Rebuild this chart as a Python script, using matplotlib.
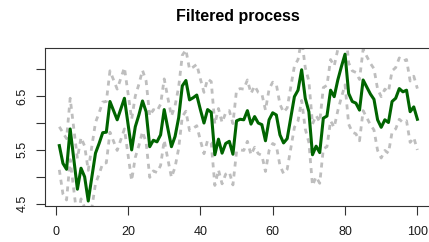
import matplotlib
matplotlib.use("Agg")
import matplotlib.pyplot as plt

plt.rcParams['font.family'] = ['Liberation Sans', 'DejaVu Sans']

title = "Filtered process"
time = list(range(1, 101))

filtered = [
    5.58, 5.25, 5.14, 5.89, 5.33, 4.77, 5.16, 5.00, 4.55, 5.00,
    5.44, 5.62, 5.82, 5.83, 6.40, 6.23, 6.06, 6.26, 6.46, 5.98,
    5.50, 5.93, 6.15, 6.41, 6.21, 5.56, 5.68, 5.65, 5.78, 6.25,
    5.90, 5.56, 5.75, 6.10, 6.69, 6.79, 6.43, 6.47, 6.52, 6.25,
    6.00, 6.25, 6.20, 5.41, 5.70, 5.44, 5.62, 5.66, 5.42, 6.04,
    6.07, 6.06, 6.23, 5.98, 6.12, 6.00, 5.97, 5.67, 6.06, 6.19,
    6.15, 5.78, 5.63, 5.71, 6.10, 6.49, 6.61, 6.99, 6.46, 6.21,
    5.41, 5.57, 5.45, 6.09, 6.13, 6.61, 6.49, 6.80, 7.05, 7.28,
    6.55, 6.40, 6.37, 6.24, 6.80, 6.67, 6.54, 6.44, 6.06, 5.92,
    6.06, 6.01, 6.40, 6.46, 6.64, 6.58, 6.61, 6.21, 6.30, 6.07,
]

upper = [
    5.93, 5.82, 5.71, 6.46, 5.90, 5.34, 5.73, 5.57, 5.12, 5.57,
    6.01, 6.19, 6.39, 6.40, 6.97, 6.80, 6.63, 6.83, 7.03, 6.55,
    6.07, 6.50, 6.72, 6.98, 6.78, 6.13, 6.25, 6.22, 6.35, 6.82,
    6.47, 6.13, 6.32, 6.67, 7.26, 7.36, 7.00, 7.04, 7.09, 6.82,
    6.57, 6.82, 6.77, 5.98, 6.27, 6.01, 6.19, 6.23, 5.99, 6.61,
    6.64, 6.63, 6.80, 6.55, 6.69, 6.57, 6.54, 6.24, 6.63, 6.76,
    6.72, 6.35, 6.20, 6.28, 6.67, 7.06, 7.18, 7.56, 7.03, 6.78,
    5.98, 6.14, 6.02, 6.66, 6.70, 7.18, 7.06, 7.37, 7.62, 7.85,
    7.12, 6.97, 6.94, 6.81, 7.37, 7.24, 7.11, 7.01, 6.63, 6.49,
    6.63, 6.58, 6.97, 7.03, 7.21, 7.15, 7.18, 6.78, 6.87, 6.64,
]

lower = [
    5.13, 4.68, 4.57, 5.32, 4.76, 4.20, 4.59, 4.43, 3.98, 4.43,
    4.87, 5.05, 5.25, 5.26, 5.83, 5.66, 5.49, 5.69, 5.89, 5.41,
    4.93, 5.36, 5.58, 5.84, 5.64, 4.99, 5.11, 5.08, 5.21, 5.68,
    5.33, 4.99, 5.18, 5.53, 6.12, 6.22, 5.86, 5.90, 5.95, 5.68,
    5.43, 5.68, 5.63, 4.84, 5.13, 4.87, 5.05, 5.09, 4.85, 5.47,
    5.50, 5.49, 5.66, 5.41, 5.55, 5.43, 5.40, 5.10, 5.49, 5.62,
    5.58, 5.21, 5.06, 5.14, 5.53, 5.92, 6.04, 6.42, 5.89, 5.64,
    4.84, 5.00, 4.88, 5.52, 5.56, 6.04, 5.92, 6.23, 6.48, 6.71,
    5.98, 5.83, 5.80, 5.67, 6.23, 6.10, 5.97, 5.87, 5.49, 5.35,
    5.49, 5.44, 5.83, 5.89, 6.07, 6.01, 6.04, 5.64, 5.73, 5.50,
]

x_ticks = [0, 20, 40, 60, 80, 100]
y_ticks = [4.5, 5.0, 5.5, 6.0, 6.5, 7.0]
y_tick_labels = ["4.5", "", "5.5", "", "6.5", ""]

W, H = 429, 242
fig = plt.figure(figsize=(W / 100, H / 100), dpi=100)
left_px, right_px, top_px, bottom_px = 45.0, 431.7, 47.7, 205.5
ax = fig.add_axes([left_px / W, 1 - bottom_px / H,
                   (right_px - left_px) / W, (bottom_px - top_px) / H])

ax.plot(time, upper, color='#BEBEBE', lw=2.0, dashes=(1.8, 1.8))
ax.plot(time, lower, color='#BEBEBE', lw=2.0, dashes=(1.8, 1.8))
ax.plot(time, filtered, color='#006400', lw=2.2)

ax.set_xlim(-2.96, 103.96)
ax.set_ylim(4.467, 7.40)

ax.set_xticks(x_ticks)
ax.set_xticklabels([str(t) for t in x_ticks])
ax.set_yticks(y_ticks)
ax.set_yticklabels(y_tick_labels, rotation=90, va='center')

for s in ax.spines.values():
    s.set_color('#333333')
    s.set_linewidth(0.8)

ax.tick_params(axis='both', direction='out', length=6.5, width=0.8,
               color='#333333', labelsize=9, labelcolor='#1a1a1a')
ax.tick_params(axis='x', pad=8.0)
ax.tick_params(axis='y', pad=5.5)

fig.text((left_px + right_px) / 2 / W, 1 - 17 / H, title,
         ha='center', va='center', fontsize=11.5, fontweight='bold')

fig.savefig('out.png', dpi=100)
